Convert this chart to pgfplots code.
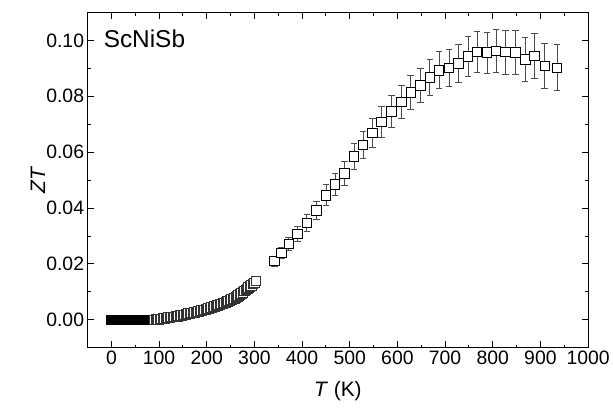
\documentclass[border=0pt]{standalone}
\usepackage{pgfplots}
\pgfplotsset{compat=1.18}
\usepackage{pgfplotstable}
\usepackage{fontspec}
\setmainfont{Liberation Sans}

\pgfplotstableread{
T ZT
90 0.0000
93 0.0001
96 0.0001
99 0.0002
102 0.0003
105 0.0003
108 0.0004
111 0.0005
114 0.0006
117 0.0007
120 0.0008
123 0.0009
126 0.0010
129 0.0011
132 0.0011
135 0.0012
138 0.0013
141 0.0014
144 0.0015
147 0.0016
150 0.0017
153 0.0018
156 0.0019
159 0.0021
162 0.0022
165 0.0023
168 0.0024
171 0.0025
174 0.0027
177 0.0028
180 0.0029
183 0.0030
186 0.0032
189 0.0033
192 0.0035
195 0.0036
198 0.0038
201 0.0039
204 0.0041
207 0.0042
210 0.0044
213 0.0046
216 0.0048
219 0.0049
222 0.0051
225 0.0053
228 0.0055
231 0.0057
234 0.0059
237 0.0061
240 0.0063
243 0.0065
246 0.0067
249 0.0069
252 0.0072
255 0.0074
258 0.0077
261 0.0080
264 0.0084
267 0.0087
270 0.0091
273 0.0095
276 0.0099
279 0.0103
282 0.0107
285 0.0111
288 0.0115
291 0.0119
294 0.0123
297 0.0128
300 0.0132
303 0.0139
}\lowtab

\pgfplotstableread{
T ZT err
342 0.0210 0.0018
357 0.0240 0.0020
372 0.0272 0.0023
390 0.0307 0.0026
410 0.0347 0.0029
430 0.0391 0.0033
450 0.0446 0.0037
469 0.0484 0.0040
489 0.0524 0.0043
509 0.0584 0.0046
528 0.0626 0.0049
548 0.0668 0.0052
567 0.0708 0.0054
588 0.0746 0.0056
608 0.0780 0.0058
628 0.0813 0.0060
648 0.0839 0.0062
668 0.0867 0.0064
687 0.0893 0.0066
708 0.0902 0.0067
728 0.0917 0.0069
748 0.0943 0.0071
767 0.0958 0.0073
788 0.0956 0.0074
807 0.0962 0.0076
827 0.0958 0.0078
848 0.0956 0.0079
868 0.0932 0.0080
888 0.0944 0.0081
909 0.0908 0.0081
935 0.0902 0.0082
}\hightab

\begin{document}
\begin{tikzpicture}
\begin{axis}[
  scale only axis,
  width=503pt, height=337pt,
  xmin=-50, xmax=1000, ymin=-0.01, ymax=0.11,
  xtick={0,100,200,300,400,500,600,700,800,900,1000},
  ytick={0,0.02,0.04,0.06,0.08,0.10},
  minor x tick num=1, minor y tick num=1,
  tick align=inside,
  major tick length=6.5pt, minor tick length=3.3pt,
  axis line style={line width=1.2pt, black},
  every tick/.style={black, line width=1pt},
  /pgf/number format/assume math mode=true,
  tick label style={font=\fontsize{19.5}{21}\selectfont},
  xticklabel style={/pgf/number format/.cd, fixed, 1000 sep={}},
  yticklabel style={/pgf/number format/.cd, fixed, fixed zerofill, precision=2},
  scaled y ticks=false,
  xlabel={\textit{T} (K)},
  ylabel={\textit{ZT}},
  label style={font=\fontsize{21}{23}\selectfont},
  xlabel style={at={(axis description cs:0.5,0)}, anchor=center, yshift=-44pt},
  ylabel style={at={(axis description cs:0,0.5)}, anchor=center, rotate=0, yshift=50pt},
  clip=false,
]
\coordinate (bl) at (rel axis cs:0,0);
\coordinate (tr) at (rel axis cs:1,1);
\addplot[only marks, mark=square*, mark size=4.8pt,
  mark options={fill=white, draw=black, line width=0.9pt}]
  coordinates {(0,0) (1,0) (2,0) (3,0) (4,0) (5,0) (6,0) (7,0) (8,0) (9,0)
  (10,0) (11,0) (12,0) (13,0) (14,0) (15,0) (16,0) (17,0) (18,0) (19,0)
  (20,0) (21,0) (22,0) (23,0) (24,0) (25,0) (26,0) (27,0) (28,0) (29,0)
  (30,0) (31,0) (32,0) (33,0) (34,0) (35,0) (36,0) (37,0) (38,0) (39,0)
  (40,0) (41,0) (42,0) (43,0) (44,0) (45,0) (46,0) (47,0) (48,0) (49,0)
  (50,0) (51,0) (52,0) (53,0) (54,0) (55,0) (56,0) (57,0) (58,0) (59,0)
  (60,0) (61,0) (62,0) (63,0) (64,0) (65,0) (66,0) (67,0) (68,0) (69,0)
  (70,0) (71,0) (72,0) (73,0) (74,0) (75,0) (76,0) (77,0) (78,0) (79,0)
  (80,0) (81,0) (82,0) (83,0) (84,0) (85,0) (86,0) (87,0) (88,0)};
\addplot[only marks, mark=square*, mark size=4.8pt,
  mark options={fill=white, draw=black!80, line width=0.9pt}]
  table[x=T, y=ZT] {\lowtab};
\addplot[only marks, mark=square*, mark size=4.8pt,
  mark options={fill=white, draw=black, line width=0.9pt},
  error bars/.cd, y dir=both, y explicit,
  error bar style={line width=0.8pt, black!70},
  error mark options={rotate=90, mark size=3.3pt, line width=0.8pt, black!70}]
  table[x=T, y=ZT, y error=err] {\hightab};
\node[anchor=north west, inner sep=0pt, font=\fontsize{24.5}{28}\selectfont]
  at (rel axis cs:0.032,0.950) {ScNiSb};
\end{axis}
\path ([shift={(-88pt,-59.7pt)}]bl) rectangle ([shift={(22.5pt,12.5pt)}]tr);
\end{tikzpicture}
\end{document}
